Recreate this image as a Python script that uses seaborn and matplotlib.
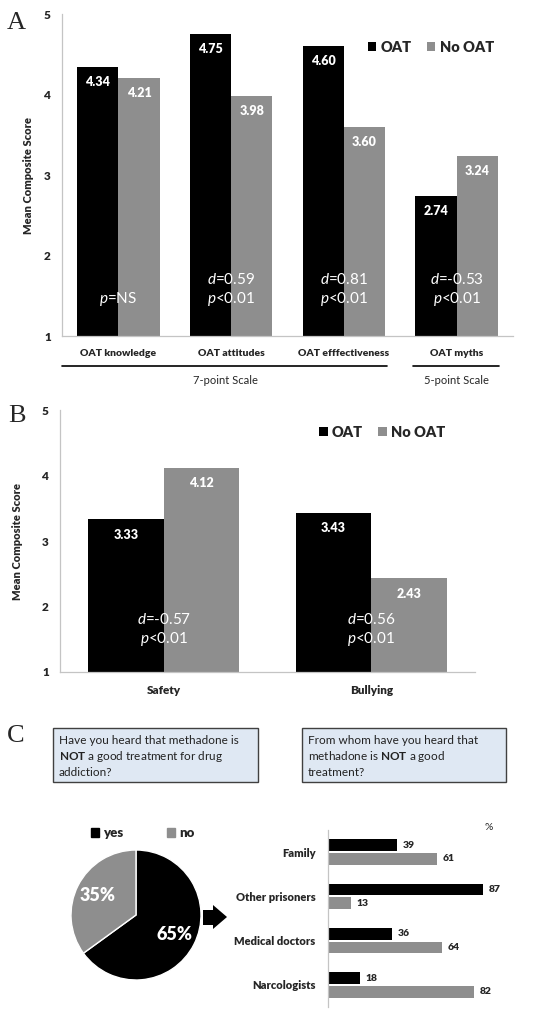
import matplotlib
matplotlib.use("Agg")
import pandas as pd
import matplotlib.pyplot as plt
import matplotlib.transforms as mtransforms
import seaborn as sns
from matplotlib.patches import Rectangle, Polygon, Patch

# panel A
scale_items = ["OAT knowledge", "OAT attitudes", "OAT efffectiveness", "OAT myths"]
oat_a = [4.34, 4.75, 4.60, 2.74]
no_oat_a = [4.21, 3.98, 3.60, 3.24]
d_a = ["", "0.59", "0.81", "-0.53"]
p_a = ["=NS", "<0.01", "<0.01", "<0.01"]

# panel B
climate_items = ["Safety", "Bullying"]
oat_b = [3.33, 3.43]
no_oat_b = [4.12, 2.43]
d_b = ["-0.57", "0.56"]
p_b = ["<0.01", "<0.01"]

# panel C
heard_labels = ["yes", "no"]
heard_pct = [65, 35]
sources = ["Family", "Other prisoners", "Medical doctors", "Narcologists"]
src_yes = [39, 87, 36, 18]
src_no = [61, 13, 64, 82]

BLACK = "#000000"
GRAY = "#8e8e8e"
SPINE = "#c4c4c4"
BOLD = 800
W, H = 536, 1016

sns.set_style("white")
plt.rcParams["font.family"] = ["Lato", "DejaVu Sans"]
plt.rcParams["mathtext.fontset"] = "custom"
plt.rcParams["mathtext.rm"] = "Lato"
plt.rcParams["mathtext.it"] = "Lato:italic"
plt.rcParams["mathtext.bf"] = "Lato:bold"


def px_rect(x0, y0, x1, y1):
    return [x0 / W, 1 - y1 / H, (x1 - x0) / W, (y1 - y0) / H]


def fx(x):
    return x / W


def fy(y):
    return 1 - y / H


def group_bars(ax, items, oat, no_oat, d_vals, p_vals, d_y, p_y, leg_xy, ylab_x):
    n = len(items)
    df = pd.DataFrame({"item": items * 2, "score": oat + no_oat,
                       "group": ["OAT"] * n + ["No OAT"] * n})
    sns.barplot(data=df, x="item", y="score", hue="group", palette=[BLACK, GRAY],
                width=0.73, saturation=1, linewidth=0, ax=ax)
    ax.set_ylim(1, 5)
    ax.set_xlim(-0.5, n - 0.5)
    ax.set_yticks([1, 2, 3, 4, 5])
    ax.set_xlabel("")
    ax.set_ylabel("Mean Composite Score", fontsize=8, fontweight=BOLD)
    ax.yaxis.set_label_coords(ylab_x, 0.5)
    sns.despine(ax=ax)
    for s in ("left", "bottom"):
        ax.spines[s].set_color(SPINE)
        ax.spines[s].set_linewidth(0.9)
    ax.tick_params(axis="both", length=0)
    ax.tick_params(axis="x", pad=9, labelsize=7.5)
    ax.tick_params(axis="y", pad=8, labelsize=8.5)
    for lbl in ax.get_xticklabels() + ax.get_yticklabels():
        lbl.set_fontweight(BOLD)

    for cont in ax.containers:
        for bar in cont:
            h = bar.get_height()
            ax.annotate(f"{h:.2f}", (bar.get_x() + bar.get_width() / 2, h),
                        xytext=(0, -11), textcoords="offset points",
                        ha="center", va="center", color="white",
                        fontsize=9, fontweight=BOLD)

    trans = mtransforms.blended_transform_factory(ax.transData, ax.transAxes)
    for i in range(n):
        if d_vals[i]:
            ax.text(i, d_y, rf"$d$={d_vals[i]}", transform=trans, ha="center",
                    va="center", color="white", fontsize=11)
        ax.text(i, p_y, rf"$p${p_vals[i]}", transform=trans, ha="center",
                va="center", color="white", fontsize=11)

    handles, labels = ax.get_legend_handles_labels()
    ax.legend(handles, labels, loc="center left", bbox_to_anchor=leg_xy, ncol=2,
              frameon=False, handlelength=0.6, handleheight=0.6,
              handletextpad=0.3, columnspacing=1.0, borderaxespad=0,
              prop=dict(weight=BOLD, size=10.5))
    return trans


fig = plt.figure(figsize=(W / 100, H / 100), dpi=100)

# ---- A
axA = fig.add_axes(px_rect(62, 14, 513, 336))
tA = group_bars(axA, scale_items, oat_a, no_oat_a, d_a, p_a, 0.174, 0.115,
                (0.665, 0.897), -0.062)
axA.plot([-0.5, 2.38], [-0.093, -0.093], transform=tA, color="black", lw=1.2, clip_on=False)
axA.plot([2.61, 3.38], [-0.093, -0.093], transform=tA, color="black", lw=1.2, clip_on=False)
axA.text(0.95, -0.137, "7-point Scale", transform=tA, ha="center", va="center", fontsize=8)
axA.text(3.0, -0.137, "5-point Scale", transform=tA, ha="center", va="center", fontsize=8)

# ---- B
axB = fig.add_axes(px_rect(60, 410, 475, 672))
group_bars(axB, climate_items, oat_b, no_oat_b, d_b, p_b, 0.202, 0.126,
           (0.61, 0.916), -0.088)
axB.tick_params(axis="x", labelsize=8.5)

# panel letters
for letter, (x, y) in zip("ABC", [(16, 23), (17, 416), (16, 736)]):
    fig.text(fx(x), fy(y), letter, family="Liberation Serif", fontsize=19,
             ha="center", va="center")

# ---- C question boxes
box_lines = [
    ["Have you heard that methadone is", r"$\bf{NOT}$ a good treatment for drug", "addiction?"],
    ["From whom have you heard that", r"methadone is $\bf{NOT}$ a good", "treatment?"],
]
for (x0, x1), lines in zip([(53, 258), (302, 506)], box_lines):
    fig.add_artist(Rectangle((fx(x0), fy(782)), (x1 - x0) / W, 54 / H,
                             transform=fig.transFigure, facecolor="#dfe8f3",
                             edgecolor="#404040", lw=1.0))
    for k, line in enumerate(lines):
        fig.text(fx(x0 + 6), fy(740 + 16 * k), line, fontsize=8.5,
                 color="#222222", ha="left", va="center")

# pie
axP = fig.add_axes(px_rect(71, 850, 201, 980))
axP.pie(heard_pct, colors=[BLACK, GRAY], startangle=90, counterclock=False,
        autopct="%d%%", pctdistance=0.66,
        textprops=dict(color="white", fontsize=13, fontweight=BOLD))
axP.set_xlim(-1, 1)
axP.set_ylim(-1, 1)
axP.set_aspect("equal")
fig.legend([Patch(color=BLACK), Patch(color=GRAY)], heard_labels,
           loc="center left", bbox_to_anchor=(fx(86), fy(833)), ncol=2,
           frameon=False, handlelength=0.6, handleheight=0.6,
           handletextpad=0.3, columnspacing=3.3, borderaxespad=0,
           prop=dict(weight=BOLD, size=9.5))

# arrow
arrow_px = [(203, 910), (213, 910), (213, 905), (227, 917), (213, 929), (213, 925), (203, 925)]
fig.add_artist(Polygon([(fx(x), fy(y)) for x, y in arrow_px], closed=True,
                       transform=fig.transFigure, facecolor="black", edgecolor="none"))

# sources
axH = fig.add_axes(px_rect(328, 830, 506, 1007))
dfH = pd.DataFrame({"source": sources * 2, "pct": src_yes + src_no,
                    "answer": ["yes"] * len(sources) + ["no"] * len(sources)})
sns.barplot(data=dfH, x="pct", y="source", hue="answer", orient="h",
            palette=[BLACK, GRAY], width=0.62, gap=0.15, saturation=1,
            linewidth=0, legend=False, ax=axH)
axH.set_xlim(0, 100)
axH.set_xticks([])
axH.set_xlabel("")
axH.set_ylabel("")
sns.despine(ax=axH, bottom=True)
axH.spines["left"].set_color(SPINE)
axH.spines["left"].set_linewidth(0.9)
axH.tick_params(axis="y", length=0, pad=9, labelsize=8)
for lbl in axH.get_yticklabels():
    lbl.set_fontweight(BOLD)
for cont in axH.containers:
    axH.bar_label(cont, fmt="%d", padding=4, fontsize=7.5, fontweight=BOLD)
fig.text(fx(489), fy(828), "%", fontsize=7.5, ha="center", va="center")

fig.savefig("out.png", dpi=100)
